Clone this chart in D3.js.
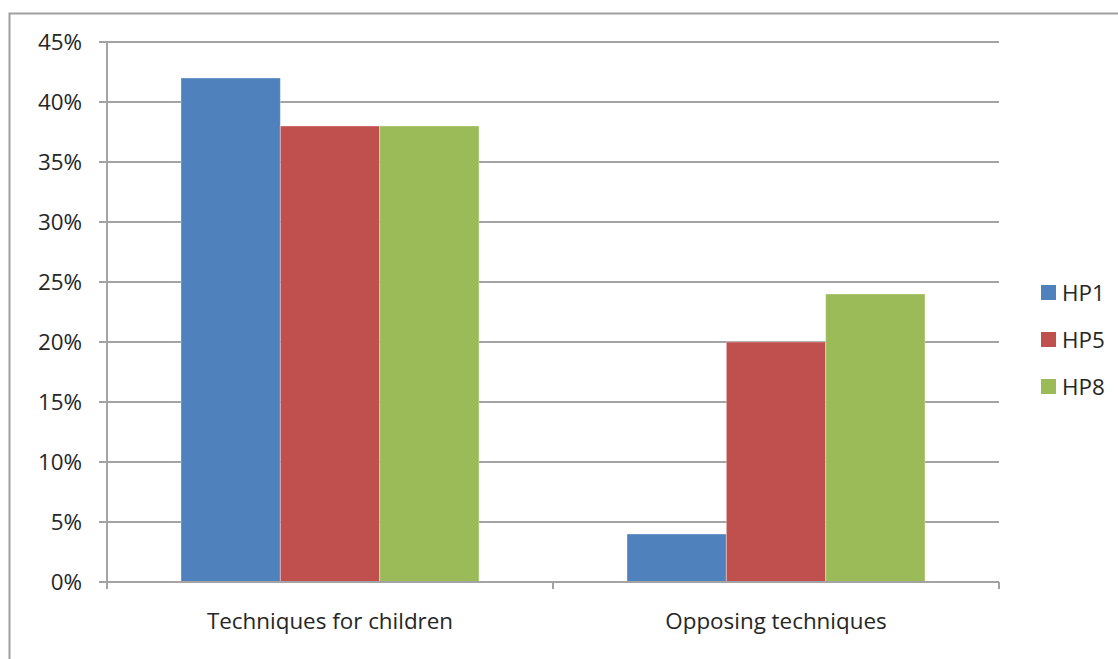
<!DOCTYPE html>
<html>
<head>
<meta charset="utf-8">
<script src="https://cdn.jsdelivr.net/npm/d3@7"></script>
<style>
  html, body { margin: 0; padding: 0; background: #fff; }
  svg { display: block; }
  text { font-family: "Open Sans", Lato, sans-serif; fill: #262626; }
</style>
</head>
<body>
<svg id="chart" width="1118" height="659"></svg>
<script>
// Share of each technique group per house plan
const categories = ["Techniques for children", "Opposing techniques"];
const seriesNames = ["HP1", "HP5", "HP8"];
const hp1 = [0.42, 0.04];
const hp5 = [0.38, 0.20];
const hp8 = [0.38, 0.24];
const yTicks = [0, 0.05, 0.10, 0.15, 0.20, 0.25, 0.30, 0.35, 0.40, 0.45];
const colors = ["#4F81BD", "#C0504D", "#9BBB59"];

const seriesValues = [hp1, hp5, hp8];

const svg = d3.select("#chart");
const W = 1118, H = 659;
const plot = { left: 107, right: 999, top: 42, bottom: 582 };
const fontSize = 22.4;

// outer chart frame (runs past the right and bottom edges)
svg.append("rect")
  .attr("x", 9.5).attr("y", 13.5)
  .attr("width", W + 40).attr("height", H + 40)
  .attr("fill", "none").attr("stroke", "#9f9f9f").attr("stroke-width", 2);

const y = d3.scaleLinear().domain([0, 0.45]).range([plot.bottom, plot.top]);
const x0 = d3.scaleBand().domain(categories).range([plot.left, plot.right]);
const x1 = d3.scaleBand().domain(seriesNames).range([0, x0.bandwidth()])
  .paddingInner(0).paddingOuter(0.745);

// horizontal gridlines
svg.append("g").selectAll("line").data(yTicks).join("line")
  .attr("x1", plot.left - 8).attr("x2", plot.right)
  .attr("y1", d => y(d)).attr("y2", d => y(d))
  .attr("stroke", "#a3a3a3").attr("stroke-width", 2);

// y axis labels
const fmt = d3.format(".0%");
svg.append("g").selectAll("text").data(yTicks).join("text")
  .attr("x", 82).attr("y", d => y(d))
  .attr("dy", "0.36em")
  .attr("text-anchor", "end")
  .attr("font-size", fontSize)
  .text(d => fmt(d));

// bars
const groups = svg.append("g").selectAll("g").data(categories).join("g")
  .attr("transform", d => `translate(${x0(d)},0)`);
groups.selectAll("rect")
  .data((c, ci) => seriesNames.map((s, si) => ({ s, si, v: seriesValues[si][ci] })))
  .join("rect")
  .attr("x", d => x1(d.s))
  .attr("width", x1.bandwidth())
  .attr("y", d => y(d.v))
  .attr("height", d => y(0) - y(d.v))
  .attr("fill", d => colors[d.si])
  .attr("stroke", "rgba(255,255,255,0.35)")
  .attr("stroke-width", 1);

// value axis line
svg.append("line")
  .attr("x1", plot.left).attr("x2", plot.left)
  .attr("y1", plot.top).attr("y2", plot.bottom + 7)
  .attr("stroke", "#a3a3a3").attr("stroke-width", 2);

// category axis line and tick marks
svg.append("line")
  .attr("x1", plot.left - 8).attr("x2", plot.right)
  .attr("y1", plot.bottom).attr("y2", plot.bottom)
  .attr("stroke", "#a3a3a3").attr("stroke-width", 2);
const catEdges = categories.map(c => x0(c)).concat([x0(categories[categories.length - 1]) + x0.bandwidth()]);
svg.append("g").selectAll("line").data(catEdges).join("line")
  .attr("x1", d => d).attr("x2", d => d)
  .attr("y1", plot.bottom).attr("y2", plot.bottom + 7)
  .attr("stroke", "#a3a3a3").attr("stroke-width", 2);

// category labels
svg.append("g").selectAll("text").data(categories).join("text")
  .attr("x", d => x0(d) + x0.bandwidth() / 2)
  .attr("y", 629)
  .attr("text-anchor", "middle")
  .attr("font-size", fontSize)
  .text(d => d);

// legend
const legend = svg.append("g").selectAll("g").data(seriesNames).join("g")
  .attr("transform", (d, i) => `translate(1041,${285 + i * 47})`);
legend.append("rect")
  .attr("width", 15).attr("height", 15)
  .attr("fill", (d, i) => colors[i]);
legend.append("text")
  .attr("x", 21).attr("y", 7.5).attr("dy", "0.36em")
  .attr("font-size", fontSize)
  .text(d => d);
</script>
</body>
</html>
